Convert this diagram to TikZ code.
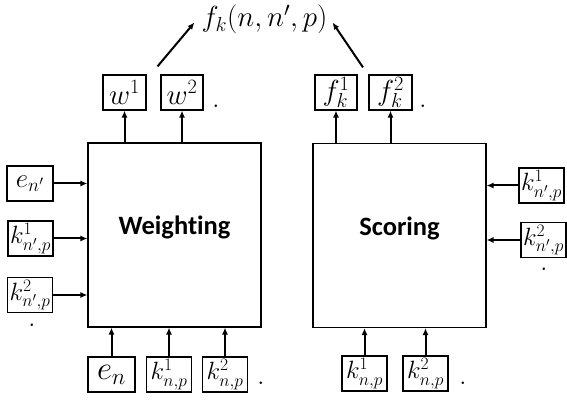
\RequirePackage{fix-cm}
\documentclass[tikz,border=0pt]{standalone}
\usepackage{fontspec}
\newfontfamily\carlito[Ligatures=CommonOff]{Carlito}
\usetikzlibrary{arrows.meta,positioning,calc}

\begin{document}
\begin{tikzpicture}[
  x=1pt,y=-1pt,
  blk/.style={draw,line width=1.2pt,inner sep=0pt,minimum width=173pt,minimum height=184pt,
    font=\carlito\bfseries\fontsize{26.5}{30}\selectfont},
  lbl/.style={draw,line width=1.2pt,inner sep=0pt,minimum width=45pt,minimum height=35pt,
    font=\fontsize{25}{28}\selectfont},
  arr/.style={-{Latex[length=7pt,width=6pt]},line width=2pt},
  dotn/.style={inner sep=0pt,font=\fontsize{26}{28}\selectfont}
]
\useasboundingbox (0,0) rectangle (567,403);
% main blocks
\node[blk] (weigh) at (174.5,235) {\raisebox{0pt}[0pt][0pt]{Weighting}};
\node[blk] (score) at (399.5,235.5) {\raisebox{0pt}[0pt][0pt]{Scoring}};
% outputs
\node[lbl,minimum width=43pt,font=\fontsize{29}{32}\selectfont] (w1) at (124.5,92.5) {$w^1$};
\node[lbl,minimum width=42pt,font=\fontsize{29}{32}\selectfont] (w2) at (182,92.5) {$w^2$};
\node[dotn] (wdot) at (216,106) {$.$};
\node[lbl,minimum width=42pt,font=\fontsize{29}{32}\selectfont] (f1) at (336,92.5) {$f_k^1$};
\node[lbl,minimum width=43pt,font=\fontsize{29}{32}\selectfont] (f2) at (390.5,92.5) {$f_k^2$};
\node[dotn] (fdot) at (423,106) {$.$};
\node[inner sep=0pt,font=\fontsize{29}{34}\selectfont] (fk) at (264.5,19.5) {$f_k(n,n',p)$};
% left inputs
\node[lbl,minimum width=46pt,font=\fontsize{27}{30}\selectfont] (enp) at (30,183.5) {$e_{n'}$};
\node[lbl] (lk1) at (30.5,238.5) {$k^1_{n',p}$};
\node[lbl] (lk2) at (30,295) {$k^2_{n',p}$};
\node[dotn] (ldot) at (32,325) {$.$};
% bottom inputs, weighting
\node[lbl,minimum width=47pt,font=\fontsize{33}{36}\selectfont] (en) at (111.5,374.5) {$e_n$};
\node[lbl] (bk1) at (169,374.5) {$k^1_{n,p}$};
\node[lbl] (bk2) at (225,374.5) {$k^2_{n,p}$};
\node[dotn] (bdot) at (261,383) {$.$};
% bottom inputs, scoring
\node[lbl] (sk1) at (364.5,373.5) {$k^1_{n,p}$};
\node[lbl] (sk2) at (425.5,373.5) {$k^2_{n,p}$};
\node[dotn] (sdot) at (463,383) {$.$};
% right inputs
\node[lbl] (rk1) at (541.5,185.5) {$k^1_{n',p}$};
\node[lbl] (rk2) at (543.5,240) {$k^2_{n',p}$};
\node[dotn] (rdot) at (544,269) {$.$};
% connectors
\draw[arr] (enp) -- (enp -| weigh.west);
\draw[arr] (lk1) -- (lk1 -| weigh.west);
\draw[arr] (lk2) -- (lk2 -| weigh.west);
\draw[arr] (en) -- (en |- weigh.south);
\draw[arr] (bk1) -- (bk1 |- weigh.south);
\draw[arr] (bk2) -- (bk2 |- weigh.south);
\draw[arr] (w1 |- weigh.north) -- (w1);
\draw[arr] (w2 |- weigh.north) -- (w2);
\draw[arr] (sk1) -- (sk1 |- score.south);
\draw[arr] (sk2) -- (sk2 |- score.south);
\draw[arr] (rk1) -- (rk1 -| score.east);
\draw[arr] (rk2) -- (rk2 -| score.east);
\draw[arr] (f1 |- score.north) -- (f1);
\draw[arr] (f2 |- score.north) -- (f2);
\draw[arr] ($(w1.north east)!0.5!(w2.north west)+(4,-8)$) -- ([shift={(-7pt,-3pt)}]fk.west);
\draw[arr] ($(f1.north east)!0.5!(f2.north west)+(0,-7)$) -- ([shift={(5pt,-3pt)}]fk.east);
\end{tikzpicture}
\end{document}
